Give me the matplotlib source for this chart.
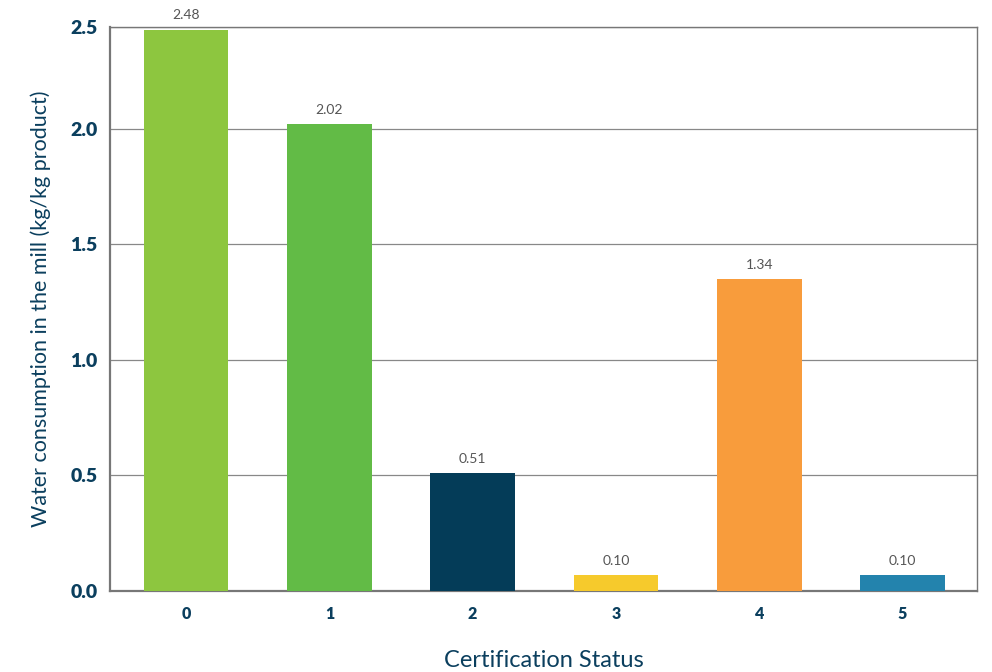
import matplotlib
matplotlib.use("Agg")
import matplotlib.pyplot as plt

categories = ["0", "1", "2", "3", "4", "5"]
values = [2.43, 2.02, 0.51, 0.07, 1.35, 0.07]
value_labels = ["2.48", "2.02", "0.51", "0.10", "1.34", "0.10"]
colors = ["#8dc63f", "#62bb46", "#043c58", "#f6ca2c", "#f89c3c", "#2383ad"]
ytick_pos = [0.0, 0.5, 1.0, 1.5, 2.0, 2.44]
ytick_labels = ["0.0", "0.5", "1.0", "1.5", "2.0", "2.5"]

navy = "#0b3f5e"
plt.rcParams['font.family'] = ['Lato', 'DejaVu Sans']

fig = plt.figure(figsize=(9.92, 6.72), dpi=100)
ax = fig.add_axes([0.111, 0.1205, 0.874, 0.839])

x = list(range(len(categories)))
ax.bar(x, values, width=0.59, color=colors, zorder=3)
for xi, v, lab in zip(x, values, value_labels):
    ax.text(xi, v + 0.035, lab, ha="center", va="bottom", fontsize=10, color="#555555")

ax.set_xlim(-0.53, 5.52)
ax.set_ylim(0, 2.44)
ax.set_yticks(ytick_pos)
ax.set_yticklabels(ytick_labels, fontsize=14, fontweight="heavy", color=navy)
ax.set_xticks(x)
ax.set_xticklabels(categories, fontsize=11.5, fontweight="heavy", color=navy)
ax.tick_params(axis="both", length=0)
ax.tick_params(axis="y", pad=9)
ax.tick_params(axis="x", pad=11)

ax.yaxis.grid(True, color="#888888", linewidth=0.9, zorder=0)
for s in ax.spines.values():
    s.set_color("#777777")
    s.set_linewidth(1.0)
ax.spines["left"].set_linewidth(1.6)
ax.spines["bottom"].set_linewidth(1.6)

ax.set_ylabel("Water consumption in the mill (kg/kg product)", fontsize=15.5, color=navy, labelpad=14)
ax.set_xlabel("Certification Status", fontsize=17, color=navy, labelpad=20)

fig.savefig("out.png", dpi=100)
